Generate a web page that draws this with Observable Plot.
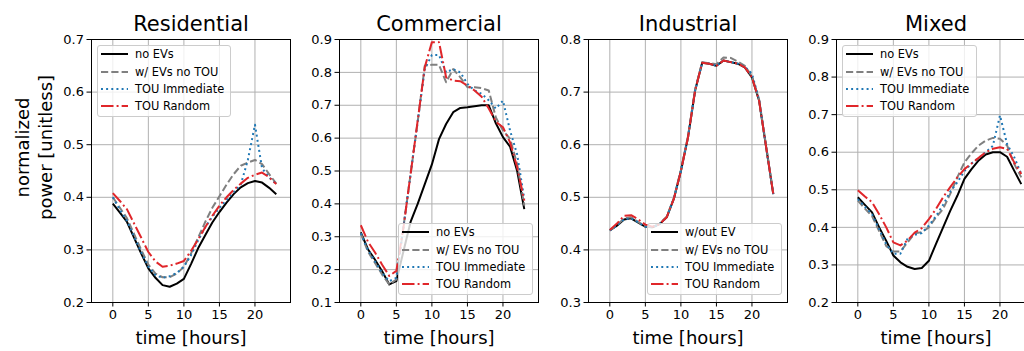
<!DOCTYPE html>
<html><head><meta charset="utf-8">
<script src="https://cdn.jsdelivr.net/npm/d3@7"></script>
<script src="https://cdn.jsdelivr.net/npm/@observablehq/plot@0.6"></script>
<style>
body{margin:0;background:#fff;}
#fig{position:relative;width:1024px;height:351px;overflow:hidden;font-family:"DejaVu Sans",sans-serif;background:#fff;}
.panel{position:absolute;top:0;}
.legend{position:absolute;border:1px solid #cccccc;border-radius:3px;background:rgba(255,255,255,0.8);box-sizing:border-box;z-index:2;}
.legend .row{position:absolute;left:0;height:14px;width:100%;}
.legend svg{position:absolute;left:3px;top:3px;}
.legend span{position:absolute;left:37px;top:0;font-size:11.4px;line-height:14px;white-space:nowrap;color:#000;}
</style></head><body><div id="fig"></div><script>
// ---- data ----
const hours = [0,1,2,3,4,5,6,7,8,9,10,11,12,13,14,15,16,17,18,19,20,21,22,23];
const xTicks = [0,5,10,15,20];
const panelTitles = ["Residential","Commercial","Industrial","Mixed"];
const resTicks = [0.2,0.3,0.4,0.5,0.6,0.7];
const comTicks = [0.1,0.2,0.3,0.4,0.5,0.6,0.7,0.8,0.9];
const indTicks = [0.3,0.4,0.5,0.6,0.7,0.8];
const mixTicks = [0.2,0.3,0.4,0.5,0.6,0.7,0.8,0.9];
const seriesLabels = ["no EVs","w/ EVs no TOU","TOU Immediate","TOU Random"];
const industrialLabels = ["w/out EV","w/ EVs no TOU","TOU Immediate","TOU Random"];

const resNoEV = [0.388,0.371,0.353,0.323,0.293,0.265,0.247,0.233,0.230,0.236,0.245,0.273,0.303,0.328,0.352,0.372,0.390,0.406,0.419,0.427,0.431,0.428,0.418,0.406];
const resEV   = [0.400,0.380,0.360,0.330,0.300,0.272,0.255,0.248,0.248,0.255,0.268,0.293,0.323,0.353,0.380,0.402,0.424,0.444,0.460,0.466,0.471,0.463,0.444,0.426];
const resImm  = [0.400,0.376,0.355,0.325,0.295,0.268,0.252,0.247,0.250,0.256,0.268,0.290,0.318,0.343,0.363,0.380,0.395,0.410,0.424,0.471,0.538,0.455,0.438,0.425];
const resRand = [0.408,0.393,0.377,0.350,0.323,0.296,0.278,0.268,0.270,0.274,0.279,0.298,0.320,0.343,0.365,0.384,0.400,0.414,0.426,0.437,0.443,0.447,0.438,0.425];

const comNoEV = [0.313,0.262,0.230,0.195,0.155,0.165,0.256,0.345,0.400,0.460,0.520,0.597,0.643,0.679,0.692,0.694,0.697,0.700,0.700,0.645,0.603,0.574,0.500,0.384];
const comEV   = [0.310,0.255,0.220,0.185,0.155,0.170,0.330,0.490,0.650,0.820,0.823,0.823,0.770,0.810,0.785,0.755,0.755,0.752,0.745,0.663,0.623,0.598,0.521,0.395];
const comImm  = [0.310,0.260,0.225,0.190,0.165,0.175,0.330,0.490,0.650,0.810,0.853,0.853,0.800,0.810,0.800,0.765,0.745,0.735,0.715,0.690,0.714,0.623,0.550,0.415];
const comRand = [0.335,0.285,0.252,0.215,0.181,0.196,0.328,0.490,0.653,0.816,0.892,0.892,0.785,0.775,0.773,0.760,0.745,0.726,0.690,0.650,0.633,0.587,0.511,0.410];

const indNoEV = [0.437,0.446,0.458,0.460,0.452,0.444,0.443,0.449,0.462,0.497,0.550,0.614,0.703,0.756,0.754,0.750,0.760,0.757,0.754,0.747,0.728,0.684,0.595,0.506];
const indEV   = [0.437,0.447,0.460,0.462,0.453,0.445,0.443,0.450,0.463,0.498,0.552,0.616,0.705,0.757,0.755,0.753,0.766,0.765,0.758,0.750,0.730,0.686,0.597,0.507];
const indImm  = [0.437,0.446,0.458,0.460,0.452,0.444,0.443,0.449,0.462,0.497,0.550,0.614,0.703,0.756,0.754,0.750,0.760,0.757,0.754,0.748,0.735,0.686,0.595,0.506];
const indRand = [0.438,0.450,0.465,0.466,0.458,0.448,0.444,0.449,0.462,0.497,0.550,0.614,0.703,0.756,0.754,0.750,0.760,0.757,0.754,0.747,0.728,0.684,0.595,0.506];

const mixNoEV = [0.480,0.460,0.440,0.400,0.364,0.325,0.307,0.295,0.289,0.292,0.311,0.356,0.400,0.444,0.484,0.529,0.555,0.578,0.594,0.600,0.600,0.588,0.551,0.515];
const mixEV   = [0.471,0.450,0.430,0.390,0.350,0.336,0.336,0.360,0.384,0.387,0.400,0.427,0.449,0.489,0.533,0.573,0.597,0.618,0.631,0.638,0.636,0.618,0.569,0.533];
const mixImm  = [0.475,0.455,0.435,0.395,0.355,0.330,0.330,0.370,0.380,0.385,0.405,0.430,0.460,0.495,0.520,0.550,0.570,0.585,0.600,0.617,0.698,0.622,0.587,0.542];
const mixRand = [0.499,0.482,0.467,0.435,0.400,0.360,0.352,0.365,0.386,0.398,0.422,0.449,0.480,0.507,0.533,0.555,0.570,0.585,0.600,0.609,0.613,0.609,0.573,0.542];

// ---- styles ----
const styles = [
  {color:"#000000", dash:null, cap:"butt"},
  {color:"#808080", dash:"7.2,3.1", cap:"butt"},
  {color:"#1f77b4", dash:"1.95,3.2", cap:"butt"},
  {color:"#e0262a", dash:"12.5,3.1,1.95,3.1", cap:"butt"}
];

const panels = [
  {title:panelTitles[0], ticks:resTicks, values:[resNoEV,resEV,resImm,resRand], labels:seriesLabels, legend:{left:97,top:45,w:134,h:72}},
  {title:panelTitles[1], ticks:comTicks, values:[comNoEV,comEV,comImm,comRand], labels:seriesLabels, legend:{left:398,top:223,w:135,h:72}},
  {title:panelTitles[2], ticks:indTicks, values:[indNoEV,indEV,indImm,indRand], labels:industrialLabels, legend:{left:647,top:223,w:135,h:72}},
  {title:panelTitles[3], ticks:mixTicks, values:[mixNoEV,mixEV,mixImm,mixRand], labels:seriesLabels, legend:{left:842,top:45,w:135,h:72}}
];

const fig = document.getElementById("fig");
const frameW = 199, mTop = 39, mBottom = 49, H = 351;

panels.forEach((p, i) => {
  const axisLeft = 91 + i * 248.4;
  const mL = i === 0 ? 91 : 46;
  const mR = 6;
  const lineMarks = p.values.map((vals, k) =>
    Plot.line(hours.map((h, j) => ({h, v: vals[j]})), {
      x: "h", y: "v", stroke: styles[k].color, strokeWidth: 2,
      strokeDasharray: styles[k].dash, strokeLinecap: styles[k].cap, strokeLinejoin: "round"
    }));
  const marks = [
    Plot.gridX(xTicks, {stroke: "#b0b0b0", strokeOpacity: 1, strokeWidth: 1}),
    Plot.gridY(p.ticks, {stroke: "#b0b0b0", strokeOpacity: 1, strokeWidth: 1}),
    ...lineMarks,
    Plot.frame({stroke: "black", strokeWidth: 1}),
    Plot.axisX(xTicks, {tickSize: 4.5, tickPadding: 3, fontSize: 13, label: null}),
    Plot.axisY(p.ticks, {tickSize: 4.5, tickPadding: 3, fontSize: 13, label: null, tickFormat: d => d.toFixed(1)}),
    Plot.text([p.title], {text: d => d, frameAnchor: "top", lineAnchor: "bottom", dy: -9, fontSize: 21}),
    Plot.text(["time [hours]"], {text: d => d, frameAnchor: "bottom", lineAnchor: "bottom", dy: 41, fontSize: 18})
  ];
  if (i === 0) {
    marks.push(Plot.text(["normalized\npower [unitless]"], {
      text: d => d, frameAnchor: "left", textAnchor: "middle", rotate: -90,
      dx: 32.5 - mL, dy: 147 - (mTop + (H - mTop - mBottom) / 2), fontSize: 18, lineHeight: 1.28
    }));
  }
  const svg = Plot.plot({
    width: mL + frameW + mR, height: H,
    marginLeft: mL, marginRight: mR, marginTop: mTop, marginBottom: mBottom,
    x: {domain: [-3, 25]},
    y: {domain: [p.ticks[0], p.ticks[p.ticks.length - 1]]},
    style: {fontFamily: "DejaVu Sans", color: "black", background: "transparent", overflow: "visible"},
    marks
  });
  svg.classList.add("panel");
  svg.style.left = (axisLeft - mL) + "px";
  fig.appendChild(svg);

  // legend
  const L = p.legend;
  const lg = document.createElement("div");
  lg.className = "legend";
  Object.assign(lg.style, {left: L.left + "px", top: L.top + "px", width: L.w + "px", height: L.h + "px"});
  p.labels.forEach((lab, k) => {
    const row = document.createElement("div");
    row.className = "row";
    row.style.top = (9.3 + 17.3 * k - 7 - 1) + "px";
    const st = styles[k];
    row.innerHTML = `<svg width="27" height="8" style="top:3px"><line x1="0" x2="27" y1="4" y2="4" stroke="${st.color}" stroke-width="2" ${st.dash ? `stroke-dasharray="${st.dash}"` : ""} stroke-linecap="butt"/></svg><span>${lab}</span>`;
    lg.appendChild(row);
  });
  fig.appendChild(lg);
});
</script></body></html>
